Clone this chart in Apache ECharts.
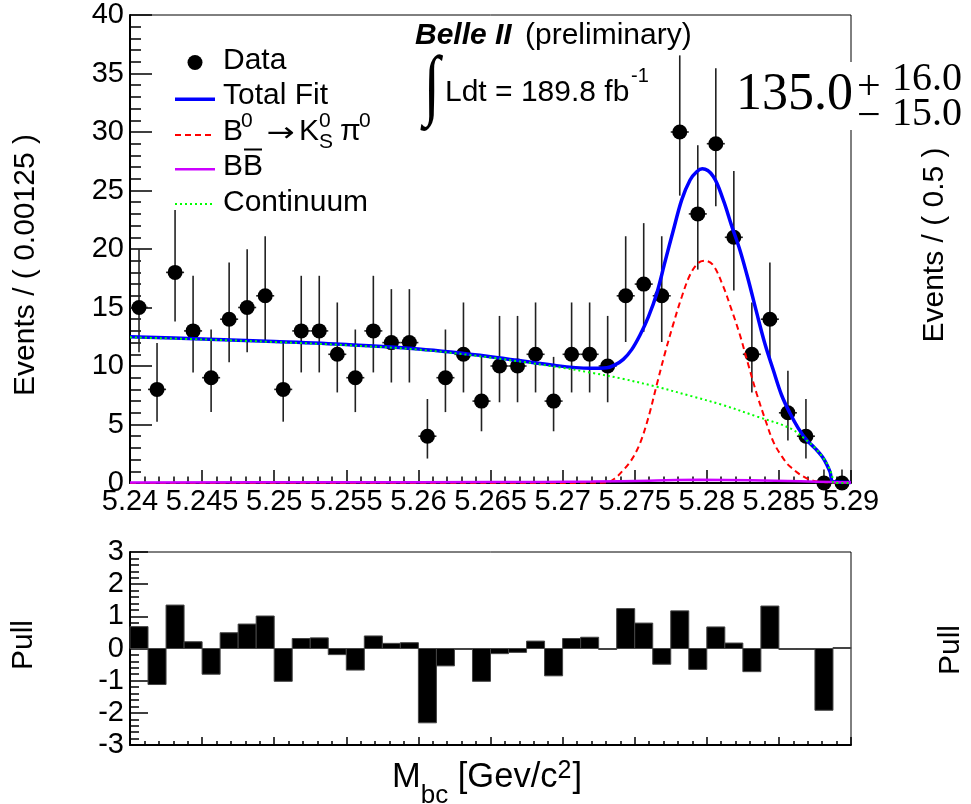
<!DOCTYPE html>
<html>
<head>
<meta charset="utf-8">
<script src="https://cdn.jsdelivr.net/npm/echarts@6/dist/echarts.min.js"></script>
<style>
  html, body { margin: 0; padding: 0; background: #fff; }
  #chart { width: 971px; height: 804px; }
</style>
</head>
<body>
<div id="chart"></div>
<script>
// ---- Binning of the M_bc histogram ----
const massMin = 5.24;
const massMax = 5.29;
const binWidth = 0.00125;

// ---- Observed events per bin ----
const counts = [15, 8, 18, 13, 9, 14, 15, 16, 8, 13, 13, 11, 9, 13, 12, 12, 4, 9, 11, 7,
                10, 10, 11, 7, 11, 11, 10, 16, 17, 16, 30, 23, 29, 21, 11, 14, 6, 4, 0, 0];
// asymmetric Poisson errors (down / up)
const errLow  = [3.83, 2.76, 4.20, 3.55, 2.94, 3.69, 3.83, 3.95, 2.76, 3.55, 3.55, 3.26, 2.94, 3.55, 3.41, 3.41, 1.91, 2.94, 3.26, 2.58,
                 3.10, 3.10, 3.26, 2.58, 3.26, 3.26, 3.10, 3.95, 4.08, 3.95, 5.44, 4.76, 5.35, 4.54, 3.26, 3.69, 2.37, 1.91, 0, 0];
const errHigh = [4.97, 3.96, 5.33, 4.71, 4.12, 4.84, 4.97, 5.09, 3.96, 4.71, 4.71, 4.43, 4.12, 4.71, 4.57, 4.57, 3.18, 4.12, 4.43, 3.78,
                 4.28, 4.28, 4.43, 3.78, 4.43, 4.43, 4.28, 5.09, 5.21, 5.09, 6.55, 5.87, 6.45, 5.66, 4.43, 4.84, 3.60, 3.18, 1.15, 1.15];

// ---- Pull per bin ----
const pulls = [0.68, -1.12, 1.35, 0.21, -0.80, 0.49, 0.76, 1.01, -1.02, 0.31, 0.33, -0.19, -0.67, 0.39, 0.16, 0.18, -2.31, -0.54, -0.01, -1.02,
               -0.16, -0.12, 0.23, -0.85, 0.31, 0.35, -0.03, 1.24, 0.79, -0.49, 1.17, -0.65, 0.67, 0.17, -0.72, 1.32, -0.01, -0.02, -1.92, 0.0];

// ---- Fit curves: [M_bc, events per bin] ----
const totalFit = [
  [5.2400, 12.50], [5.2450, 12.31], [5.2500, 12.09], [5.2550, 11.83], [5.2600, 11.45], [5.2650, 10.80],
  [5.2690, 10.12], [5.27190, 9.80], [5.27306, 9.85], [5.27363, 10.10], [5.27421, 10.57], [5.27479, 11.40],
  [5.27537, 12.65], [5.27595, 14.20], [5.27653, 16.20], [5.27710, 18.90], [5.27768, 21.60], [5.27826, 24.20],
  [5.27884, 25.90], [5.27930, 26.60], [5.27969, 26.85], [5.28045, 26.20], [5.28114, 24.20], [5.28172, 22.00],
  [5.28230, 19.90], [5.28288, 17.35], [5.28345, 14.60], [5.28403, 11.90], [5.28461, 9.66], [5.28519, 7.50],
  [5.28577, 5.96], [5.28635, 4.67], [5.28693, 3.67], [5.28751, 2.96], [5.28808, 2.11], [5.28854, 0.97],
  [5.28877, 0.10], [5.2900, 0.05]
];
const signal = [
  [5.2400, 0.00], [5.2650, 0.00], [5.2710, 0.01], [5.27306, 0.05], [5.27363, 0.40], [5.27421, 1.10],
  [5.27479, 2.00], [5.27537, 3.40], [5.27595, 5.60], [5.27653, 8.40], [5.27710, 11.10], [5.27768, 13.60],
  [5.27826, 15.90], [5.27884, 17.80], [5.27940, 18.80], [5.27988, 19.00], [5.28045, 18.60], [5.28114, 16.80],
  [5.28172, 14.80], [5.28230, 12.65], [5.28288, 10.10], [5.28345, 7.67], [5.28403, 5.50], [5.28461, 3.53],
  [5.28519, 2.30], [5.28577, 1.40], [5.28693, 0.40], [5.28808, 0.08], [5.2900, 0.02]
];
const bbBackground = [
  [5.2400, 0.05], [5.2550, 0.06], [5.2650, 0.08], [5.2720, 0.12], [5.2760, 0.20], [5.2795, 0.27],
  [5.2830, 0.24], [5.2865, 0.15], [5.2888, 0.08], [5.2900, 0.05]
];
const continuum = [
  [5.2400, 12.45], [5.2450, 12.27], [5.2500, 12.05], [5.2550, 11.78], [5.2600, 11.40], [5.2650, 10.72],
  [5.2700, 9.85], [5.2720, 9.42], [5.2740, 8.95], [5.2765, 8.23], [5.2790, 7.40], [5.2811, 6.67],
  [5.2835, 5.67], [5.2858, 4.67], [5.2869, 3.67], [5.2875, 3.00], [5.2881, 2.10], [5.2884, 1.50],
  [5.2886, 0.95], [5.2887, 0.55], [5.2888, 0.00], [5.2900, 0.00]
];

const binCenters = counts.map((_, i) => massMin + (i + 0.5) * binWidth);

const SANS = 'Liberation Sans';
const SERIF = 'Liberation Serif';

// ---- text layout helper: runs of pieces sharing one baseline ----
const measureCtx = document.createElement('canvas').getContext('2d');
function measure(t, size, family, weight, style) {
  measureCtx.font = `${style || 'normal'} ${weight || 'normal'} ${size}px "${family}"`;
  return measureCtx.measureText(t).width;
}
function textRun(x, baseline, pieces) {
  const out = [];
  let cx = x, stackW = 0;
  pieces.forEach(p => {
    const fam = p.family || SANS;
    if (p.at != null) cx = p.at;
    if (p.gap) cx += p.gap;
    const w = measure(p.t, p.size, fam, p.weight, p.style);
    out.push({
      type: 'text', silent: true, x: cx,
      y: baseline + (p.rise || 0) - 0.35 * p.size,
      style: {
        text: p.t, fontSize: p.size, fontFamily: fam,
        fontWeight: p.weight || 'normal', fontStyle: p.style || 'normal',
        fill: '#000', align: 'left', verticalAlign: 'middle'
      }
    });
    if (p.stack) { stackW = Math.max(stackW, w); }
    else { cx += Math.max(w, stackW); stackW = 0; }
  });
  return out;
}
function label(t, x, y, size, rotation, family) {
  return {
    type: 'text', silent: true, x, y, rotation: rotation || 0,
    style: { text: t, fontSize: size, fontFamily: family || SANS, fill: '#000', align: 'center', verticalAlign: 'middle' }
  };
}
function hline(x1, x2, y, color, width, dash) {
  return {
    type: 'line', silent: true, shape: { x1, y1: y, x2, y2: y },
    style: { stroke: color, lineWidth: width, lineDash: dash || null }
  };
}

// ---- legend + annotations ----
const graphics = [];
// legend
graphics.push({ type: 'circle', silent: true, shape: { cx: 195, cy: 62.5, r: 7.5 }, style: { fill: '#000' } });
graphics.push(hline(175, 215, 99.3, '#0000ff', 3.5));
graphics.push(hline(175, 215, 135, '#ff0000', 2, [6, 4]));
graphics.push(hline(175, 215, 169.3, '#cc00ff', 2.5));
graphics.push(hline(175, 215, 204, '#00ff00', 2, [2, 3]));
graphics.push(...textRun(223, 71, [{ t: 'Data', size: 30 }]));
graphics.push(...textRun(223, 106.5, [{ t: 'Total Fit', size: 30 }]));
graphics.push(...textRun(223, 142, [
  { t: 'B', size: 30 }, { t: '0', size: 21, rise: -13, at: 241 },
  { t: 'K', size: 30, at: 299 }, { t: '0', size: 21, rise: -13, stack: true, at: 319 }, { t: 'S', size: 21, rise: 8, at: 319 },
  { t: '\u03c0', size: 30, at: 340 }, { t: '0', size: 21, rise: -13, at: 359 }
]));
graphics.push({
  type: 'text', silent: true, x: 281, y: 134, scaleX: 1.25,
  style: { text: '\u2192', fontSize: 27, fontFamily: 'DejaVu Sans', fill: '#000', align: 'center', verticalAlign: 'middle' }
});
const wB = measure('B', 30, SANS);
graphics.push(...textRun(223, 177.5, [{ t: 'BB', size: 30 }]));
graphics.push(hline(223 + wB + 1, 223 + 2 * wB - 1, 149.5, '#000', 2));
graphics.push(...textRun(223, 213, [{ t: 'Continuum', size: 30 }]));

// experiment label
graphics.push(...textRun(415, 46, [{ t: 'Belle II', size: 30, weight: 'bold', style: 'italic' }]));
graphics.push(...textRun(525, 46, [{ t: '(preliminary)', size: 30 }]));
graphics.push({
  type: 'text', silent: true, x: 432, y: 90, scaleY: 1.3,
  style: { text: '\u222b', fontSize: 60, fontFamily: SERIF, fill: '#000', align: 'center', verticalAlign: 'middle' }
});
graphics.push(...textRun(445, 103.3, [{ t: 'Ldt = 189.8 fb', size: 30 }]));
graphics.push(...textRun(631, 83.5, [{ t: '-1', size: 20 }]));

// signal yield
graphics.push({ type: 'rect', silent: true, shape: { x: 734, y: 62, width: 237, height: 68 }, style: { fill: '#fff' } });
graphics.push(...textRun(736, 113.3, [{ t: '135.0', size: 52, family: SERIF }]));
graphics.push(...textRun(857, 93.3, [{ t: '+', size: 42, family: SERIF, rise: 9 }, { t: '16.0', size: 40, family: SERIF, at: 892 }]));
graphics.push(...textRun(857, 128.3, [{ t: '\u2212', size: 42, family: SERIF, rise: 3 }, { t: '15.0', size: 40, family: SERIF, at: 892 }]));

// axis titles
graphics.push(label('Events / ( 0.00125 )', 26, 265, 30, Math.PI / 2));
graphics.push(label('Events / ( 0.5 )', 935, 245, 30, Math.PI / 2));
graphics.push(label('Pull', 24, 645, 30, Math.PI / 2));
graphics.push(label('Pull', 951, 650, 30, Math.PI / 2));
graphics.push(...textRun(392, 790, [
  { t: 'M', size: 34.5 }, { t: 'bc', size: 26, rise: 15 }, { t: ' [Gev/c', size: 34.5 },
  { t: '2', size: 25, rise: -10 }, { t: ']', size: 34.5, gap: 1 }
]));

// ---- chart ----
const chart = echarts.init(document.getElementById('chart'), null, { renderer: 'canvas' });

const massLabel = v => String(+(+v).toFixed(4));
const tickText = { fontSize: 29, fontFamily: SANS, color: '#000' };

function xAxisFor(gridIndex, showLabels, majorLen, minorLen) {
  return {
    type: 'value', gridIndex, min: massMin, max: massMax, interval: 0.005,
    axisLine: { show: true, onZero: false, lineStyle: { color: '#000', width: 2 } },
    axisTick: { show: true, inside: true, length: majorLen, lineStyle: { color: '#000', width: 1.5 } },
    minorTick: { show: true, splitNumber: 5, length: minorLen, lineStyle: { color: '#000', width: 1.5 } },
    splitLine: { show: false },
    axisLabel: Object.assign({ show: showLabels, margin: 4, formatter: massLabel }, tickText)
  };
}

const option = {
  animation: false,
  backgroundColor: '#fff',
  grid: [
    { left: 130, top: 15, width: 721, height: 468, show: true, borderColor: '#000', borderWidth: 1, backgroundColor: 'transparent' },
    { left: 130, top: 552, width: 721, height: 193, show: true, borderColor: '#000', borderWidth: 1, backgroundColor: 'transparent' }
  ],
  xAxis: [
    xAxisFor(0, true, 13, 6.5),
    xAxisFor(1, false, 8, 4)
  ],
  yAxis: [
    {
      type: 'value', gridIndex: 0, min: 0, max: 40, interval: 5,
      axisLine: { show: true, lineStyle: { color: '#000', width: 2 } },
      axisTick: { show: true, inside: true, length: 22, lineStyle: { color: '#000', width: 1.5 } },
      minorTick: { show: true, splitNumber: 5, length: 11, lineStyle: { color: '#000', width: 1.5 } },
      splitLine: { show: false },
      axisLabel: Object.assign({ margin: 6 }, tickText)
    },
    {
      type: 'value', gridIndex: 1, min: -3, max: 3, interval: 1,
      axisLine: { show: true, lineStyle: { color: '#000', width: 2 } },
      axisTick: { show: true, inside: true, length: 18, lineStyle: { color: '#000', width: 1.5 } },
      minorTick: { show: true, splitNumber: 5, length: 9, lineStyle: { color: '#000', width: 1.5 } },
      splitLine: { show: false },
      axisLabel: Object.assign({ margin: 6 }, tickText)
    }
  ],
  series: [
    {
      name: 'Data errors', type: 'custom', xAxisIndex: 0, yAxisIndex: 0, clip: false, z: 3,
      data: counts.map((n, i) => [binCenters[i], n, n - errLow[i], n + errHigh[i]]),
      renderItem(params, api) {
        const x = api.value(0), y = api.value(1);
        const lo = api.coord([x, api.value(2)]), hi = api.coord([x, api.value(3)]);
        const l = api.coord([x - binWidth / 2, y]), r = api.coord([x + binWidth / 2, y]);
        const st = { stroke: '#222', lineWidth: 1.6 };
        return {
          type: 'group', children: [
            { type: 'line', shape: { x1: lo[0], y1: lo[1], x2: hi[0], y2: hi[1] }, style: st },
            { type: 'line', shape: { x1: l[0], y1: l[1], x2: r[0], y2: r[1] }, style: st }
          ]
        };
      }
    },
    {
      name: 'Data', type: 'scatter', xAxisIndex: 0, yAxisIndex: 0, clip: false, z: 3,
      symbol: 'circle', symbolSize: 15, itemStyle: { color: '#000', opacity: 1 },
      data: counts.map((n, i) => [binCenters[i], n])
    },
    {
      name: 'Total Fit', type: 'line', xAxisIndex: 0, yAxisIndex: 0, z: 4,
      showSymbol: false, smooth: 0.35, data: totalFit,
      lineStyle: { color: '#0000ff', width: 3.5 }
    },
    {
      name: 'Signal', type: 'line', xAxisIndex: 0, yAxisIndex: 0, z: 4,
      showSymbol: false, smooth: 0.35, data: signal,
      lineStyle: { color: '#ff0000', width: 2, type: [6, 4] }
    },
    {
      name: 'BBbar', type: 'line', xAxisIndex: 0, yAxisIndex: 0, z: 4,
      showSymbol: false, smooth: 0.35, data: bbBackground,
      lineStyle: { color: '#cc00ff', width: 2.5 }
    },
    {
      name: 'Continuum', type: 'line', xAxisIndex: 0, yAxisIndex: 0, z: 4,
      showSymbol: false, smooth: 0.35, data: continuum,
      lineStyle: { color: '#00ff00', width: 2, type: [2, 3] }
    },
    {
      name: 'Pull', type: 'custom', xAxisIndex: 1, yAxisIndex: 1, z: 3,
      data: pulls.map((p, i) => [binCenters[i], p]),
      renderItem(params, api) {
        const c = api.value(0), p = api.value(1);
        const a = api.coord([c - binWidth / 2, 0]);
        const b = api.coord([c + binWidth / 2, p]);
        const h = Math.max(Math.abs(b[1] - a[1]), 1);
        return {
          type: 'rect',
          shape: { x: a[0], y: p >= 0 ? a[1] - h : a[1], width: b[0] - a[0], height: h },
          style: { fill: '#000', stroke: '#444', lineWidth: 1 }
        };
      }
    }
  ],
  graphic: graphics
};

chart.setOption(option);
</script>
</body>
</html>
